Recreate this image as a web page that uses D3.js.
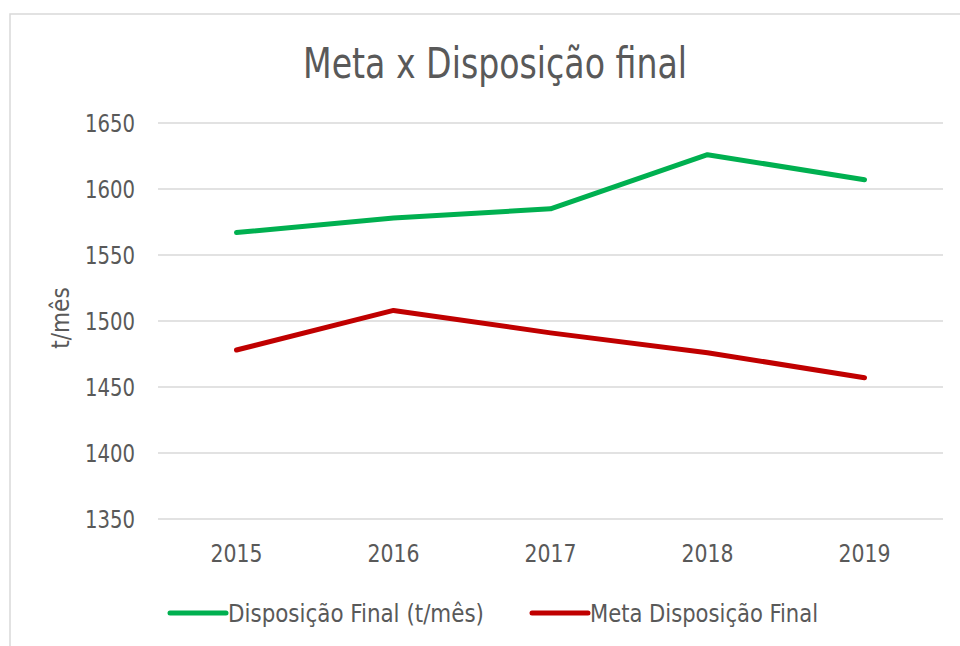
<!DOCTYPE html>
<html>
<head>
<meta charset="utf-8">
<script src="https://cdn.jsdelivr.net/npm/d3@7"></script>
<style>
  body { margin: 0; background: #fff; }
  svg text { font-family: "DejaVu Sans Condensed", "DejaVu Sans", sans-serif; font-stretch: condensed; fill: #595959; }
</style>
</head>
<body>
<div id="chart"></div>
<script>
// Data
var years = ["2015", "2016", "2017", "2018", "2019"];
var disposicao = [1567, 1578, 1585, 1626, 1607];
var meta = [1478, 1508, 1491, 1476, 1457];
var yTicks = [1350, 1400, 1450, 1500, 1550, 1600, 1650];
var seriesNames = ["Disposição Final (t/mês)", "Meta Disposição Final"];
var seriesColors = ["#00B050", "#C00000"];

var width = 960, height = 646;
var margin = {top: 123, right: 17, bottom: 127, left: 158};

var svg = d3.select("#chart").append("svg")
    .attr("width", width)
    .attr("height", height);

// chart area border
svg.append("rect")
    .attr("x", 10).attr("y", 14)
    .attr("width", 1000).attr("height", 1000)
    .attr("fill", "none")
    .attr("stroke", "#d9d9d9")
    .attr("stroke-width", 1.5);

var x = d3.scaleBand()
    .domain(years)
    .range([margin.left, width - margin.right]);

var y = d3.scaleLinear()
    .domain([1350, 1650])
    .range([height - margin.bottom, margin.top]);

// squeeze text to the narrow look of the original
function squeeze(sel, w) {
    sel.attr("textLength", w).attr("lengthAdjust", "spacingAndGlyphs");
}

// Title
svg.append("text")
    .attr("x", 495).attr("y", 78)
    .attr("text-anchor", "middle")
    .style("font-size", "42px")
    .text("Meta x Disposição final")
    .call(squeeze, 384);

// Gridlines
svg.append("g").selectAll("line")
    .data(yTicks)
    .enter().append("line")
    .attr("x1", margin.left)
    .attr("x2", width - margin.right)
    .attr("y1", function(d) { return y(d); })
    .attr("y2", function(d) { return y(d); })
    .attr("stroke", "#d9d9d9")
    .attr("stroke-width", 1.5);

// Y axis
var yAxis = svg.append("g")
    .attr("transform", "translate(" + (margin.left - 23) + ",0)")
    .call(d3.axisLeft(y).tickValues(yTicks).tickFormat(d3.format("d")).tickSize(0).tickPadding(0));
yAxis.select(".domain").remove();
yAxis.selectAll("text").style("font-size", "24px").attr("dy", "0.36em").call(squeeze, 50);

// X axis
var xAxis = svg.append("g")
    .attr("transform", "translate(0," + (height - margin.bottom) + ")")
    .call(d3.axisBottom(x).tickSize(0).tickPadding(26));
xAxis.select(".domain").remove();
xAxis.selectAll("text").style("font-size", "24px").call(squeeze, 52);

// Y axis title
svg.append("text")
    .attr("transform", "translate(69,318) rotate(-90)")
    .attr("text-anchor", "middle")
    .style("font-size", "24px")
    .text("t/mês");

// Lines
var line = d3.line()
    .x(function(d, i) { return x(years[i]) + x.bandwidth() / 2; })
    .y(function(d) { return y(d); });

[disposicao, meta].forEach(function(s, i) {
    svg.append("path")
        .datum(s)
        .attr("d", line)
        .attr("fill", "none")
        .attr("stroke", seriesColors[i])
        .attr("stroke-width", 5)
        .attr("stroke-linecap", "round")
        .attr("stroke-linejoin", "round");
});

// Legend
var legendX = [170, 532];
var legendW = [256, 228];
var legend = svg.append("g").selectAll("g")
    .data(seriesNames)
    .enter().append("g")
    .attr("transform", function(d, i) { return "translate(" + legendX[i] + ",613)"; });

legend.append("line")
    .attr("x1", 0).attr("x2", 56)
    .attr("stroke", function(d, i) { return seriesColors[i]; })
    .attr("stroke-width", 5)
    .attr("stroke-linecap", "round");

legend.append("text")
    .attr("x", 58)
    .attr("dy", "0.36em")
    .style("font-size", "25px")
    .attr("textLength", function(d, i) { return legendW[i]; })
    .attr("lengthAdjust", "spacingAndGlyphs")
    .text(function(d) { return d; });
</script>
</body>
</html>
